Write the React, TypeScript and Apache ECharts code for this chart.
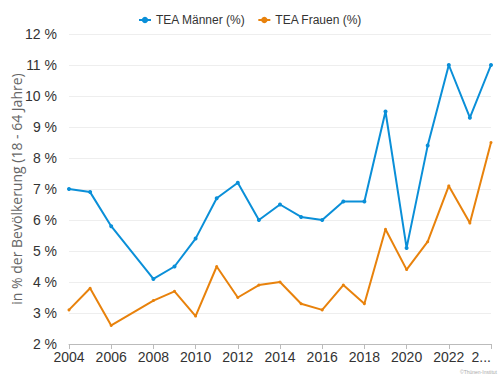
import React, { useEffect, useRef } from "react";
import * as echarts from "echarts";

const years = [2004, 2005, 2006, 2008, 2009, 2010, 2011, 2012, 2013, 2014, 2015, 2016, 2017, 2018, 2019, 2020, 2021, 2022, 2023, 2024];
const maenner = [7.0, 6.9, 5.8, 4.1, 4.5, 5.4, 6.7, 7.2, 6.0, 6.5, 6.1, 6.0, 6.6, 6.6, 9.5, 5.1, 8.4, 11.0, 9.3, 11.0];
const frauen = [3.1, 3.8, 2.6, 3.4, 3.7, 2.9, 4.5, 3.5, 3.9, 4.0, 3.3, 3.1, 3.9, 3.3, 5.7, 4.4, 5.3, 7.1, 5.9, 8.5];
const seriesNames = ["TEA Männer (%)", "TEA Frauen (%)"];
const yAxisTitle = "in % der Bevölkerung (18 - 64 Jahre)";
const credit = "©Thünen-Institut";

export default function App() {
  const ref = useRef<HTMLDivElement>(null);
  useEffect(() => {
    if (!ref.current) return;
    const chart = echarts.init(ref.current, null, { renderer: "svg" });
    const font = "'Liberation Sans', Arial, sans-serif";
    chart.setOption({
      animation: false,
      textStyle: { fontFamily: font },
      legend: {
        top: 9,
        left: "center",
        itemWidth: 12,
        itemHeight: 8,
        itemGap: 12,
        textStyle: { fontSize: 12, color: "#333", fontFamily: font },
        data: seriesNames,
      },
      grid: { left: 69, right: 9, top: 34, bottom: 32, containLabel: false, outerBoundsMode: "none" },
      xAxis: {
        type: "value",
        min: 2004,
        max: 2024,
        interval: 2,
        splitLine: { show: false },
        axisLine: { show: true, lineStyle: { color: "#bbb" } },
        axisTick: { show: true, length: 5, lineStyle: { color: "#bbb" } },
        axisLabel: {
          fontSize: 14,
          color: "#333",
          margin: 6,
          alignMaxLabel: "right",
          formatter: (v: number) => (v === 2024 ? "2..." : String(v)),
        },
      },
      yAxis: {
        type: "value",
        min: 2,
        max: 12,
        interval: 1,
        name: yAxisTitle,
        nameLocation: "middle",
        nameGap: 46,
        nameMoveOverlap: false,
        nameTextStyle: { fontSize: 14, color: "#666", fontFamily: "'Open Sans', sans-serif" },
        axisLine: { show: false },
        axisTick: { show: false },
        splitLine: { lineStyle: { color: "#eee" } },
        axisLabel: { fontSize: 14, color: "#333", margin: 12, formatter: "{value} %" },
      },
      graphic: [
        {
          type: "text",
          right: 3,
          bottom: 2,
          style: { text: credit, fontSize: 5, fill: "#aaa", fontFamily: font },
        },
      ],
      series: [
        {
          name: seriesNames[0],
          type: "line",
          data: years.map((y, i) => [y, maenner[i]]),
          color: "#0a8fd8",
          lineStyle: { width: 2 },
          symbol: "circle",
          symbolSize: 4,
        },
        {
          name: seriesNames[1],
          type: "line",
          data: years.map((y, i) => [y, frauen[i]]),
          color: "#e8820c",
          lineStyle: { width: 2 },
          symbol: "circle",
          symbolSize: 3,
        },
      ],
    });
    return () => chart.dispose();
  }, []);
  return <div ref={ref} style={{ width: 500, height: 376, position: "absolute", left: 0, top: 0 }} />;
}
